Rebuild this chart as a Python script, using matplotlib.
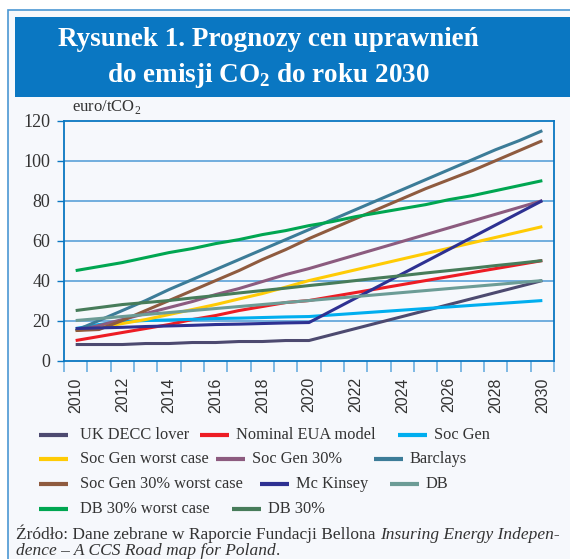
import matplotlib
matplotlib.use("Agg")
import matplotlib.pyplot as plt
from matplotlib.patches import Rectangle
from matplotlib.lines import Line2D

plt.rcParams['font.family'] = ['Liberation Serif', 'DejaVu Serif']
plt.rcParams['mathtext.fontset'] = 'custom'
plt.rcParams['mathtext.rm'] = 'Liberation Serif'
plt.rcParams['mathtext.bf'] = 'Liberation Serif:bold'

W, H = 570, 559
BLUE = '#0a77c2'
BG = '#f6f8fc'

years = list(range(2010, 2031))

uk_decc = [8, 8, 8, 8.5, 8.5, 9, 9, 9.5, 9.5, 10, 10, 13, 16, 19, 22, 25, 28, 31, 34, 37, 40]
nominal_eua = [10, 12, 14, 16, 18, 20.5, 22.5, 25, 27, 29, 30, 32, 34, 36, 38, 40, 42, 44, 46, 48, 50]
soc_gen = [16, 18, 19.5, 20, 20.3, 20.6, 21, 21.2, 21.5, 21.8, 22, 22.8, 23.6, 24.4, 25.2, 26, 26.8, 27.6, 28.4, 29.2, 30]
soc_gen_worst = [15, 16.5, 18.5, 20.5, 23, 25.5, 28, 30.8, 33.5, 36.7, 40, 42.7, 45.4, 48.1, 50.8, 53.5, 56.2, 58.9, 61.6, 64.3, 67]
soc_gen_30 = [15, 17.5, 20.5, 23.5, 26.5, 29.5, 33, 36, 39.5, 43, 46, 49.4, 52.8, 56.2, 59.6, 63, 66.4, 69.8, 73.2, 76.6, 80]
barclays = [15, 20, 25, 30, 35.5, 40.5, 45.5, 50.5, 55.5, 60.5, 65.5, 70.5, 75.5, 80.5, 85.5, 90.5, 95.5, 100.5, 105.5, 110, 115]
soc_gen_30_worst = [15, 15.5, 20, 25, 30, 35, 40, 45, 50.5, 55.5, 61, 66, 71, 76, 81, 86, 90.5, 95, 100, 105, 110]
mckinsey = [16, 16.3, 16.6, 17, 17.3, 17.6, 18, 18.2, 18.5, 18.8, 19, 25.1, 31.2, 37.3, 43.4, 49.5, 55.6, 61.7, 67.8, 73.9, 80]
db = [20, 21, 22, 23, 24, 25, 26, 27, 28, 29, 30, 31, 32, 33, 34, 35, 36, 37, 38, 39, 40]
db_30_worst = [45, 47, 49, 51.5, 54, 56, 58.5, 60.5, 63, 65, 67.5, 69.5, 72, 74, 76, 78, 80.5, 82.5, 85, 87.5, 90]
db_30 = [25, 26.5, 28, 29, 30, 31.3, 32.5, 33.8, 35, 36.2, 37.5, 38.7, 40, 41.3, 42.5, 43.8, 45, 46.2, 47.5, 48.7, 50]

names = ['UK DECC lover', 'Nominal EUA model', 'Soc Gen', 'Soc Gen worst case', 'Soc Gen 30%',
         'Barclays', 'Soc Gen 30% worst case', 'Mc Kinsey', 'DB', 'DB 30% worst case', 'DB 30%']
series = [uk_decc, nominal_eua, soc_gen, soc_gen_worst, soc_gen_30,
          barclays, soc_gen_30_worst, mckinsey, db, db_30_worst, db_30]
colors = ['#4d4a70', '#ed1c24', '#00aeef', '#ffcb05', '#8c5b7f',
          '#3c7c98', '#8f5b3f', '#2e3192', '#6c9c96', '#00a651', '#477c5a']
# legend placement in pixels: handle start x, row centre y
leg_x = [39, 200, 398, 39, 216, 374, 39, 260, 390, 39, 232]
leg_y = [435, 435, 435, 459, 459, 459, 484, 484, 484, 509, 509]


def fx(x):
    return x / W


def fy(y):
    return 1 - y / H


fig = plt.figure(figsize=(W / 100, H / 100), dpi=100, facecolor='white')

# frame and title box
fig.add_artist(Rectangle((fx(8), fy(580)), fx(600), fy(10) - fy(580), transform=fig.transFigure,
                         facecolor=BG, edgecolor='#4b97d3', lw=1.2, zorder=0))
fig.add_artist(Rectangle((fx(15), fy(97)), fx(600), fy(17) - fy(97), transform=fig.transFigure,
                         facecolor=BLUE, edgecolor='none', zorder=1))
fig.text(fx(268), fy(40), 'Rysunek 1. Prognozy cen uprawnień', color='white', fontsize=19.5,
         fontweight='bold', ha='center', va='center')
fig.text(fx(268), fy(75), r'do emisji CO$_\mathbf{2}$ do roku 2030', color='white', fontsize=19.5,
         fontweight='bold', ha='center', va='center')

ax = fig.add_axes([fx(64), fy(360.5), fx(554 - 64), fy(120.7) - fy(360.5)])
ax.set_facecolor(BG)

x = list(range(len(years)))
for vals, c in zip(series, colors):
    ax.plot(x, vals, color=c, lw=2.2, solid_capstyle='butt', zorder=3)

ax.set_xlim(-0.5, len(years) - 0.5)
ax.set_ylim(0, 120)
ax.set_yticks(range(0, 121, 20))
ax.set_yticklabels([str(v) for v in range(0, 121, 20)], fontsize=13, color='#333333')
ax.set_xticks(x[::2])
ax.set_xticklabels([str(y) for y in years[::2]], rotation=90, fontsize=11.5,
                   family='Liberation Sans', color='#333333')
ax.set_xticks([i - 0.5 for i in range(len(years) + 1)], minor=True)
ax.tick_params(axis='x', which='major', length=0, pad=12)
ax.tick_params(axis='x', which='minor', length=8, color='#6aaee0', width=1.2)
ax.tick_params(axis='y', length=5, color=BLUE, width=1, pad=5)
for s in ax.spines.values():
    s.set_color(BLUE)
    s.set_linewidth(1.3)
for v in range(20, 101, 20):
    ax.axhline(v, color='#4d9ad6', lw=1.1, zorder=1)

fig.text(fx(72), fy(107), r'euro/tCO$_2$', fontsize=12, color='#333333', va='center')

# legend
for name, c, lx, ly in zip(names, colors, leg_x, leg_y):
    fig.add_artist(Line2D([fx(lx), fx(lx + 29)], [fy(ly), fy(ly)], transform=fig.transFigure,
                          color=c, lw=3, solid_capstyle='butt'))
    fig.text(fx(lx + 41 if lx == 39 else lx + 36), fy(ly), name, fontsize=11.8, color='#333333',
             va='center')

# source note: regular text followed by italic title
t1 = fig.text(fx(16), fy(539), 'Źródło: Dane zebrane w Raporcie Fundacji Bellona ', fontsize=12.5,
              color='#333333', va='baseline')
fig.canvas.draw()
bb = t1.get_window_extent()
fig.text(bb.x1 / W, fy(539), 'Insuring Energy Indepen-', fontsize=12.5, style='italic',
         color='#333333', va='baseline')
t3 = fig.text(fx(16), fy(555), 'dence – A CCS Road map for Poland', fontsize=12.5, style='italic',
              color='#333333', va='baseline')
fig.canvas.draw()
bb3 = t3.get_window_extent()
fig.text(bb3.x1 / W, fy(555), '.', fontsize=12.5, color='#333333', va='baseline')

fig.savefig('out.png', dpi=100, facecolor='white')
